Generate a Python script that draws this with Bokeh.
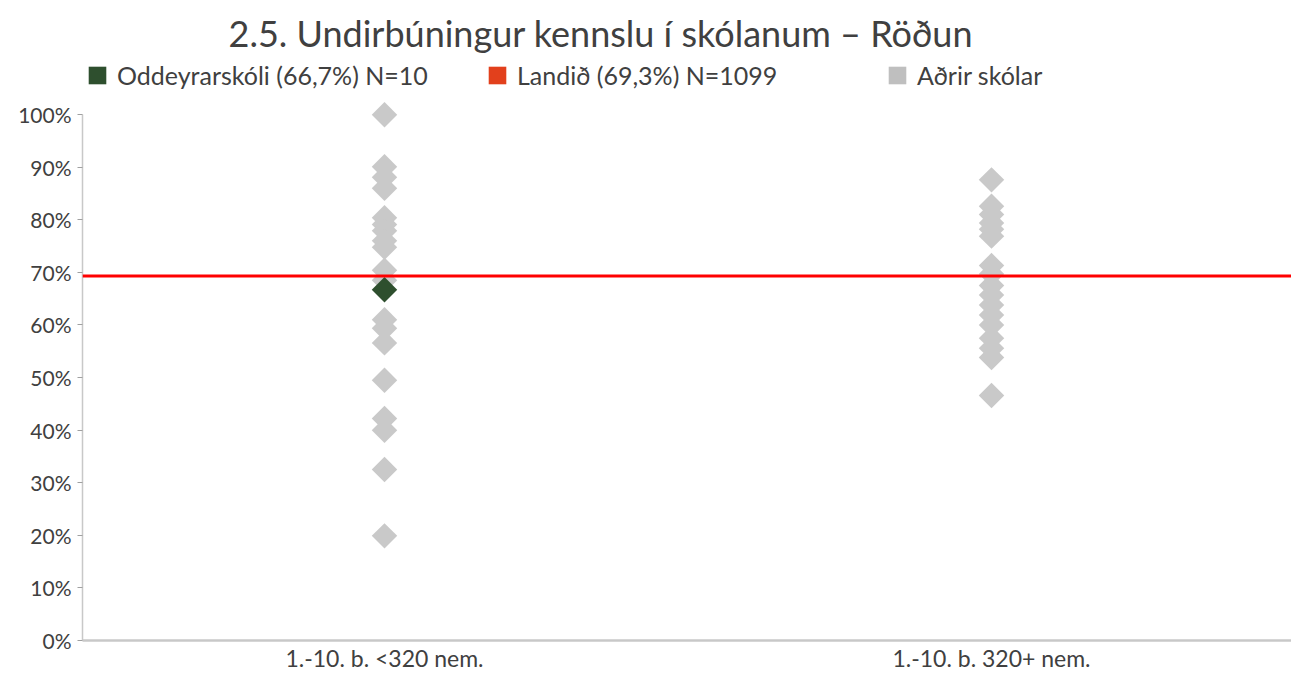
import numpy as np
from bokeh.plotting import figure
from bokeh.models import (ColumnDataSource, Span, Legend, LegendItem, FixedTicker,
                          PrintfTickFormatter, Range1d)
from bokeh.embed import file_html
from bokeh.resources import INLINE

# ---- data ----
categories = ["1.-10. b. <320 nem.", "1.-10. b. 320+ nem."]
others_small = [100, 90.1, 88.1, 86.0, 80.4, 79.1, 77.9, 76.0, 74.8, 70.4, 68.5,
                61.0, 59.4, 56.6, 49.5, 42.2, 40.0, 32.5, 19.9]
others_large = [87.6, 82.6, 81.0, 79.4, 78.2, 76.9, 71.3, 69.7, 67.5, 65.7, 63.8,
                61.9, 60.0, 57.5, 55.6, 53.8, 46.6]
school_name = "Oddeyrarskóli (66,7%) N=10"
school_value = 66.7
school_category = 0
national_name = "Landið (69,3%) N=1099"
national_value = 69.3
others_name = "Aðrir skólar"
y_ticks = [0, 10, 20, 30, 40, 50, 60, 70, 80, 90, 100]

FONT = "Lato"
TXT = "#404040"
GRAY = "#c9c9c9"
GREEN = "#2e4f2e"

p = figure(width=1291, height=674, output_backend="svg", toolbar_location=None,
           x_range=Range1d(-0.4975, 1.4942), y_range=Range1d(0, 110.3),
           min_border_left=82, min_border_right=0, min_border_top=60, min_border_bottom=28,
           background_fill_color="white", border_fill_color="white")
p.outline_line_color = None
p.grid.visible = False

p.title.text = "2.5. Undirbúningur kennslu í skólanum – Röðun"
p.title.text_font = FONT
p.title.text_font_size = "36px"
p.title.text_font_style = "normal"
p.title.text_color = TXT
p.title.align = "left"
p.title.offset = 146
p.title.standoff = 12

# others
xs = [0] * len(others_small) + [1] * len(others_large)
ys = others_small + others_large
src = ColumnDataSource(dict(x=xs, y=ys))
p.scatter("x", "y", source=src, marker="square", size=18, angle=np.pi / 4,
          fill_color=GRAY, line_color=None)

p.add_layout(Span(location=national_value, dimension="width", line_color="#ff0000",
                  line_width=3))

p.scatter([school_category], [school_value], marker="square", size=18, angle=np.pi / 4,
          fill_color=GREEN, line_color=None)

# axes
p.yaxis.ticker = FixedTicker(ticks=y_ticks)
p.yaxis.formatter = PrintfTickFormatter(format="%d%%")
p.yaxis.bounds = (0, 100)
p.yaxis.axis_line_color = "#c8c8c8"
p.yaxis.axis_line_width = 1.5
p.yaxis.major_tick_line_color = "#a0a0a0"
p.yaxis.major_tick_out = 5
p.yaxis.major_tick_in = 0
p.yaxis.minor_tick_line_color = None
p.yaxis.major_label_text_font = FONT
p.yaxis.major_label_text_font_size = "21px"
p.yaxis.major_label_text_color = TXT
p.yaxis.major_label_standoff = 6

p.xaxis.ticker = FixedTicker(ticks=[0, 1])
p.xaxis.major_label_overrides = {0: categories[0], 1: categories[1]}
p.xaxis.axis_line_color = "#c8c8c8"
p.xaxis.axis_line_width = 2.5
p.xaxis.major_tick_line_color = None
p.xaxis.major_tick_out = 0
p.xaxis.major_tick_in = 0
p.xaxis.minor_tick_line_color = None
p.xaxis.major_label_text_font = FONT
p.xaxis.major_label_text_font_size = "23px"
p.xaxis.major_label_text_color = TXT
p.xaxis.major_label_standoff = 3

# legend swatches: off-range quads so that only their legend glyph shows
items = []
for name, col in [(school_name, GREEN), (national_name, "#e2401c"), (others_name, "#bfbfbf")]:
    r = p.quad(left=[-5], right=[-4], bottom=[-5], top=[-4], fill_color=col, line_color=None)
    items.append(LegendItem(label=name, renderers=[r]))
leg = Legend(items=items, location=(4, 550), orientation="horizontal",
             padding=0, margin=0, spacing=0,
             glyph_width=22, glyph_height=22, label_standoff=9, label_height=20,
             label_width=369,
             label_text_font=FONT, label_text_font_size="25px", label_text_color=TXT,
             background_fill_alpha=0, border_line_color=None)
p.add_layout(leg, "center")

open("out.html", "w").write(file_html(p, INLINE))
